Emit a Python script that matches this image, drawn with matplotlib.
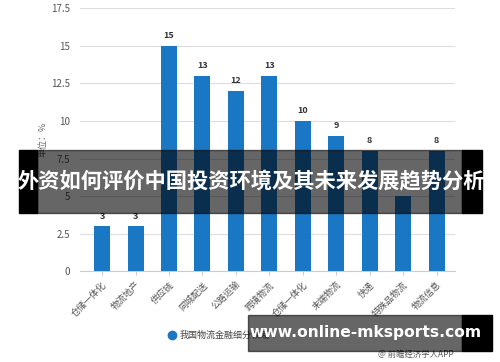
import matplotlib
matplotlib.use('Agg')
import matplotlib.pyplot as plt
from matplotlib.patches import Rectangle
from matplotlib.lines import Line2D
from matplotlib.ticker import FuncFormatter

plt.rcParams['font.family'] = ['Noto Sans CJK SC', 'DejaVu Sans']

# 数据
categories = ['仓储一体化', '物流地产', '供应链', '同城配送', '公路运输', '跨境物流',
              '仓储一体化', '末端物流', '快递', '特殊品物流', '物流信息']
values = [3, 3, 15, 13, 12, 13, 10, 9, 8, 5, 8]
series_name = '我国物流金融细分领域'
bar_color = '#1a77c3'

fig = plt.figure(figsize=(5, 3.62), dpi=100)
ax = fig.add_axes([0.16, 0.251, 0.75, 0.726])

x = range(len(categories))
bars = ax.bar(x, values, width=0.48, color=bar_color, zorder=3)
for b, v in zip(bars, values):
    ax.annotate(str(v), (b.get_x() + b.get_width() / 2, v), xytext=(0, 4),
                textcoords='offset points', ha='center', va='bottom',
                fontsize=6.5, fontweight='bold', color='#333333')

ax.set_ylim(0, 17.5)
ax.set_xlim(-0.66, 10.55)
ax.set_yticks([0, 2.5, 5, 7.5, 10, 12.5, 15, 17.5])
ax.yaxis.set_major_formatter(FuncFormatter(lambda v, p: '{:g}'.format(v)))
ax.grid(axis='y', color='#dddddd', linewidth=0.8, zorder=0)
for s in ['top', 'right', 'left']:
    ax.spines[s].set_visible(False)
ax.spines['bottom'].set_color('#cccccc')
ax.tick_params(axis='y', length=0, labelsize=7, labelcolor='#555555', pad=7)
ax.tick_params(axis='x', length=3, color='#cccccc', labelsize=6.5, labelcolor='#555555')
ax.set_xticks(list(x))
ax.set_xticklabels(categories, rotation=45, ha='right', rotation_mode='anchor')
ax.set_ylabel('单位：%', fontsize=6.5, color='#666666', labelpad=3)

# 图例
handle = Line2D([], [], marker='o', markersize=6, color=bar_color, linestyle='none')
fig.legend([handle], [series_name], loc='center left', bbox_to_anchor=(0.318, 0.073),
           frameon=False, fontsize=6.5, handlelength=1.0, handletextpad=0.4,
           labelcolor='#444444')
fig.text(0.756, 0.008, '@ 前瞻经济学人APP', fontsize=6, color='#555555', ha='left', va='bottom')

# 横幅
W, H = 500, 362
def box(x0, y0, x1, y1, alpha):
    fig.patches.append(Rectangle((x0 / W, 1 - y1 / H), (x1 - x0) / W, (y1 - y0) / H,
                                 transform=fig.transFigure, color='black', alpha=alpha,
                                 zorder=10))

box(19, 150, 37, 213, 1.0)
box(462, 150, 482, 213, 1.0)
box(37, 150, 462, 213, 0.6)
fig.text(251 / W, 1 - 182 / H, '外资如何评价中国投资环境及其未来发展趋势分析', fontsize=15.3,
         fontweight='bold', color='white', ha='center', va='center', zorder=11)

box(248, 315, 462, 351, 0.6)
box(462, 315, 492, 351, 1.0)
fig.text(366 / W, 1 - 333 / H, 'www.online-mksports.com', fontsize=11.2,
         fontweight='bold', color='white', ha='center', va='center', zorder=11,
         family='DejaVu Sans')

fig.savefig('out.png', dpi=100)
